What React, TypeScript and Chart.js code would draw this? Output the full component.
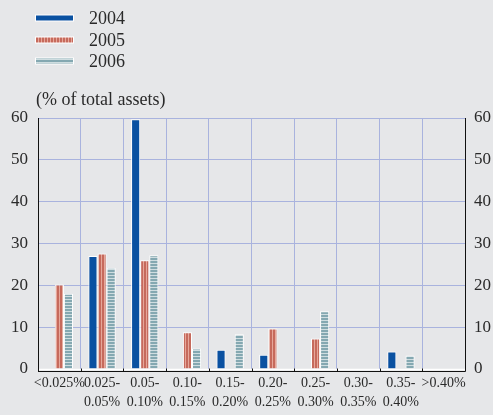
import React, { useEffect, useRef } from "react";
import { Chart, registerables } from "chart.js";

Chart.register(...registerables);

const categories: string[][] = [
  ["<0.025%"],
  ["0.025-", "0.05%"],
  ["0.05-", "0.10%"],
  ["0.10-", "0.15%"],
  ["0.15-", "0.20%"],
  ["0.20-", "0.25%"],
  ["0.25-", "0.30%"],
  ["0.30-", "0.35%"],
  ["0.35-", "0.40%"],
  [">0.40%"],
];
const seriesNames = ["2004", "2005", "2006"];
const values2004 = [0, 27, 59.7, 0, 4.6, 3.4, 0, 0, 4.2, 0];
const values2005 = [20.2, 27.6, 26, 8.8, 0, 9.7, 7.3, 0, 0, 0];
const values2006 = [18, 24.2, 27.2, 4.9, 8.3, 0, 13.8, 0, 3.2, 0];
const yTicks = [0, 10, 20, 30, 40, 50, 60];
const yTitle = "(% of total assets)";

const BG = "#e6e7e9";
const GRID = "#a9b3de";
const TEXT = "#2a2a2a";
const FONT = "'Liberation Serif', 'DejaVu Serif', serif";

function makePattern(kind: "v" | "h"): CanvasPattern | string {
  const c = document.createElement("canvas");
  const ctx = c.getContext("2d");
  if (!ctx) return "#888";
  if (kind === "v") {
    c.width = 3;
    c.height = 3;
    ctx.fillStyle = "#c66a5c";
    ctx.fillRect(0, 0, 3, 3);
    ctx.fillStyle = "#e6a79a";
    ctx.fillRect(2, 0, 1, 3);
  } else {
    c.width = 3;
    c.height = 3;
    ctx.fillStyle = "#84a8b1";
    ctx.fillRect(0, 0, 3, 3);
    ctx.fillStyle = "#cfdde0";
    ctx.fillRect(0, 2, 3, 1);
  }
  const p = ctx.createPattern(c, "repeat");
  return p || "#888";
}

export default function App() {
  const ref = useRef<HTMLCanvasElement | null>(null);

  useEffect(() => {
    if (!ref.current) return;
    const fills: (CanvasPattern | string)[] = ["#0a51a1", makePattern("v"), makePattern("h")];

    const decor = {
      id: "decor",
      afterDraw(chart: any) {
        const ctx = chart.ctx as CanvasRenderingContext2D;
        const a = chart.chartArea;
        const x = chart.scales.x;
        ctx.save();
        // baseline white
        ctx.strokeStyle = "#ffffff";
        ctx.lineWidth = 1.5;
        ctx.beginPath();
        ctx.moveTo(a.left, a.bottom + 0.5);
        ctx.lineTo(a.right, a.bottom + 0.5);
        ctx.stroke();
        // black axis line with upward ticks
        ctx.strokeStyle = "#111";
        ctx.lineWidth = 1;
        const yb = a.bottom + 2.5;
        ctx.beginPath();
        ctx.moveTo(a.left, yb);
        ctx.lineTo(a.right, yb);
        const n = categories.length;
        for (let i = 0; i <= n; i++) {
          const px = i < n ? x.getPixelForValue(i) - (x.getPixelForValue(1) - x.getPixelForValue(0)) / 2 : a.right;
          const xx = Math.round(px) + 0.5;
          ctx.moveTo(xx, yb);
          ctx.lineTo(xx, yb - 3);
        }
        ctx.moveTo(a.left + 0.5, a.top);
        ctx.lineTo(a.left + 0.5, yb);
        ctx.moveTo(a.right + 0.5, a.top);
        ctx.lineTo(a.right + 0.5, yb);
        ctx.stroke();

        // legend
        ctx.font = `18px ${FONT}`;
        ctx.textBaseline = "middle";
        ctx.textAlign = "left";
        const ys = [18, 40, 61];
        chart.data.datasets.forEach((ds: any, i: number) => {
          const y = ys[i];
          ctx.fillStyle = "#ffffff";
          ctx.fillRect(35, y - 3.5, 39, 7);
          ctx.fillStyle = ds.backgroundColor;
          ctx.fillRect(36, y - 2.5, 37, 5);
          ctx.fillStyle = TEXT;
          ctx.fillText(ds.label, 89, y + 1);
        });
        ctx.fillText(yTitle, 36, 100);
        ctx.restore();
      },
    };

    const chart = new Chart(ref.current, {
      type: "bar",
      data: {
        labels: categories,
        datasets: [values2004, values2005, values2006].map((v, i) => ({
          label: seriesNames[i],
          data: v,
          backgroundColor: fills[i] as any,
          borderColor: "#ffffff",
          borderWidth: 1,
          borderSkipped: "start",
          barPercentage: 1,
          categoryPercentage: 0.64,
        })),
      },
      options: {
        animation: false,
        responsive: false,
        maintainAspectRatio: false,
        layout: { padding: { top: 118, left: 0, right: 0, bottom: 0 } },
        plugins: {
          legend: { display: false },
          tooltip: { enabled: false },
          title: { display: false },
        },
        scales: {
          x: {
            offset: true,
            grid: {
              display: true,
              offset: true,
              color: GRID,
              lineWidth: 1,
              drawTicks: false,
            },
            border: { display: false },
            ticks: {
              autoSkip: false,
              maxRotation: 0,
              minRotation: 0,
              padding: 5,
              color: TEXT,
              font: { family: FONT, size: 14, lineHeight: 1.35 },
            },
            afterFit: (s: any) => {
              s.height = 46;
            },
          },
          y: {
            position: "left",
            min: 0,
            max: 60,
            afterBuildTicks: (s: any) => {
              s.ticks = yTicks.map((v) => ({ value: v }));
            },
            grid: {
              color: (c: any) => (c.tick && c.tick.value === 0 ? "rgba(0,0,0,0)" : GRID),
              lineWidth: 1,
              drawTicks: false,
            },
            border: { display: false },
            ticks: {
              padding: 10,
              color: TEXT,
              font: { family: FONT, size: 17 },
            },
            afterFit: (s: any) => {
              s.width = 38;
            },
          },
          y2: {
            position: "right",
            min: 0,
            max: 60,
            afterBuildTicks: (s: any) => {
              s.ticks = yTicks.map((v) => ({ value: v }));
            },
            grid: { display: false, drawTicks: false },
            border: { display: false },
            ticks: {
              padding: 9,
              color: TEXT,
              font: { family: FONT, size: 17 },
            },
            afterFit: (s: any) => {
              s.width = 28;
            },
          },
        },
      },
      plugins: [decor],
    });
    return () => chart.destroy();
  }, []);

  return (
    <div style={{ position: "absolute", left: 0, top: 0, width: 493, height: 415, background: BG }}>
      <canvas ref={ref} width={493} height={415} style={{ display: "block", width: 493, height: 415 }} />
    </div>
  );
}
